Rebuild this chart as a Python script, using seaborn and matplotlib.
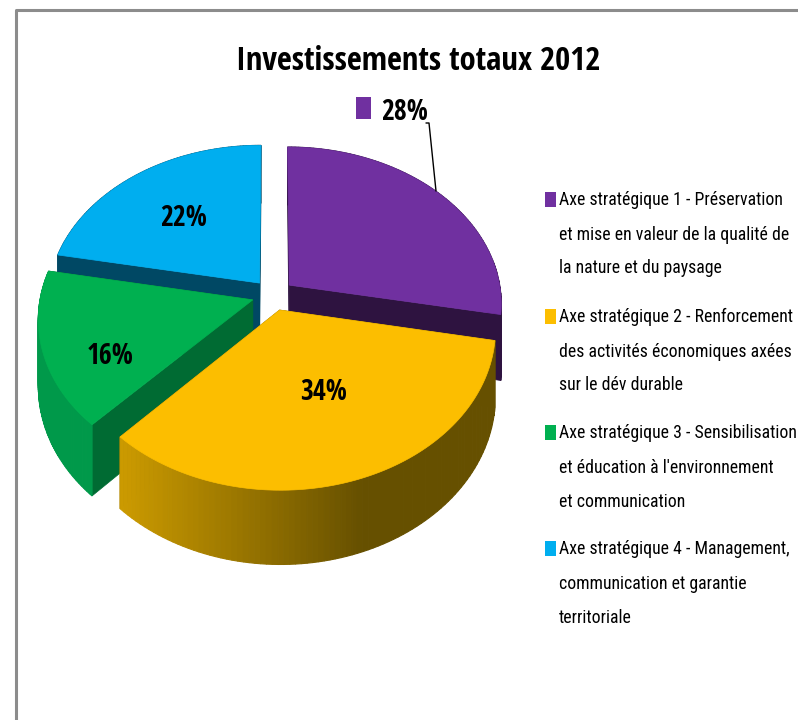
import matplotlib
matplotlib.use("Agg")
import matplotlib.pyplot as plt
from matplotlib.colors import to_rgb
from matplotlib.patches import Polygon, Rectangle
import numpy as np
import seaborn as sns

title = "Investissements totaux 2012"
shares = [28, 34, 16, 22]
labels = ["28%", "34%", "16%", "22%"]
legend_lines = [
    ["Axe stratégique 1 - Préservation", "et mise en valeur de la qualité de", "la nature et du paysage"],
    ["Axe stratégique 2 - Renforcement", "des activités économiques axées", "sur le dév durable"],
    ["Axe stratégique 3 - Sensibilisation", "et éducation à l'environnement", "et communication"],
    ["Axe stratégique 4 - Management,", "communication et garantie", "territoriale"],
]
top_colors = ["#7030a0", "#fcbe00", "#00b050", "#00aeef"]
wall_colors = ["#2e1340", "#6b5200", "#006b33", "#004864"]
rim_left = ["#2e1340", "#cb9a00", "#00994a", "#004864"]
rim_right = ["#2e1340", "#665000", "#00a651", "#004864"]

sns.set_theme(style="white")
plt.rcParams["font.family"] = ["Open Sans Condensed", "Liberation Sans", "DejaVu Sans"]

fig = plt.figure(figsize=(7.98, 7.2), dpi=100, facecolor="white")
ax = fig.add_axes([0, 0, 1, 1])

wedges, _ = ax.pie(shares, explode=[0.1] * 4, startangle=90, counterclock=False)
ax.set_aspect("auto")
ax.set_xlim(0, 798)
ax.set_ylim(720, 0)
ax.axis("off")

# fake 3d: the flat pie is pushed through a small perspective
cx, cy = 273, 295
k = 0.114


def project(x, y, lift=0.0):
    d = 1 + k * y
    return cx + 212 * x / d, cy - 156 * y / d + lift * 65 / d


def shade(c1, c2, x):
    t = np.clip((x - 122) / (360 - 122), 0, 1)
    return tuple((1 - t) * np.array(to_rgb(c1)) + t * np.array(to_rgb(c2)))


for i in [3, 0, 2, 1]:
    w = wedges[i]
    w.set_visible(False)
    (x0, y0) = w.center
    th = np.radians(np.linspace(w.theta1, w.theta2, 90))
    xs = np.r_[x0, x0 + w.r * np.cos(th)]
    ys = np.r_[y0, y0 + w.r * np.sin(th)]
    tx, ty = project(xs, ys)
    bx, by = project(xs, ys, 1)

    # radial walls first, then the rim in strips
    for a in [1, len(xs) - 1]:
        ax.add_patch(Polygon([(tx[0], ty[0]), (tx[a], ty[a]), (bx[a], by[a]), (bx[0], by[0])],
                             fc=wall_colors[i], ec=wall_colors[i], lw=0.5))
    for a in range(1, len(xs) - 1):
        col = shade(rim_left[i], rim_right[i], tx[a])
        ax.add_patch(Polygon([(tx[a], ty[a]), (tx[a + 1], ty[a + 1]), (bx[a + 1], by[a + 1]), (bx[a], by[a])],
                             fc=col, ec=col, lw=0.8))
    ax.add_patch(Polygon(np.c_[tx, ty], fc=top_colors[i], ec=top_colors[i], lw=0.5))

# chart frame, cut off by the image on two sides
ax.plot([16, 16, 798], [720, 10, 10], color="#8c8c8c", lw=2.2, solid_capstyle="butt")

ax.text(418, 61, title, ha="center", va="center", fontsize=23.5, fontweight="bold", color="black")

ax.add_patch(Rectangle((356, 97), 15, 22, fc=top_colors[0], ec="none"))
ax.text(405, 112, labels[0], ha="center", va="center", fontsize=20, fontweight="bold", color="black")
ax.plot([426, 429, 436], [123, 123, 191], color="black", lw=1)
ax.text(324, 392, labels[1], ha="center", va="center", fontsize=20, fontweight="bold", color="black")
ax.text(110, 356, labels[2], ha="center", va="center", fontsize=20, fontweight="bold", color="black")
ax.text(184, 218, labels[3], ha="center", va="center", fontsize=20, fontweight="bold", color="black")

line_y = [[200, 235, 268], [317, 352, 385], [433, 468, 502], [549, 584, 618]]
for i, lines in enumerate(legend_lines):
    ax.add_patch(Rectangle((545, line_y[i][0] - 8), 11, 15, fc=top_colors[i], ec="none"))
    for txt, y in zip(lines, line_y[i]):
        ax.text(559, y, txt, ha="left", va="center", fontsize=12.8, color="black",
                family=["Roboto Condensed", "DejaVu Sans"])

fig.savefig("out.png", dpi=100)
